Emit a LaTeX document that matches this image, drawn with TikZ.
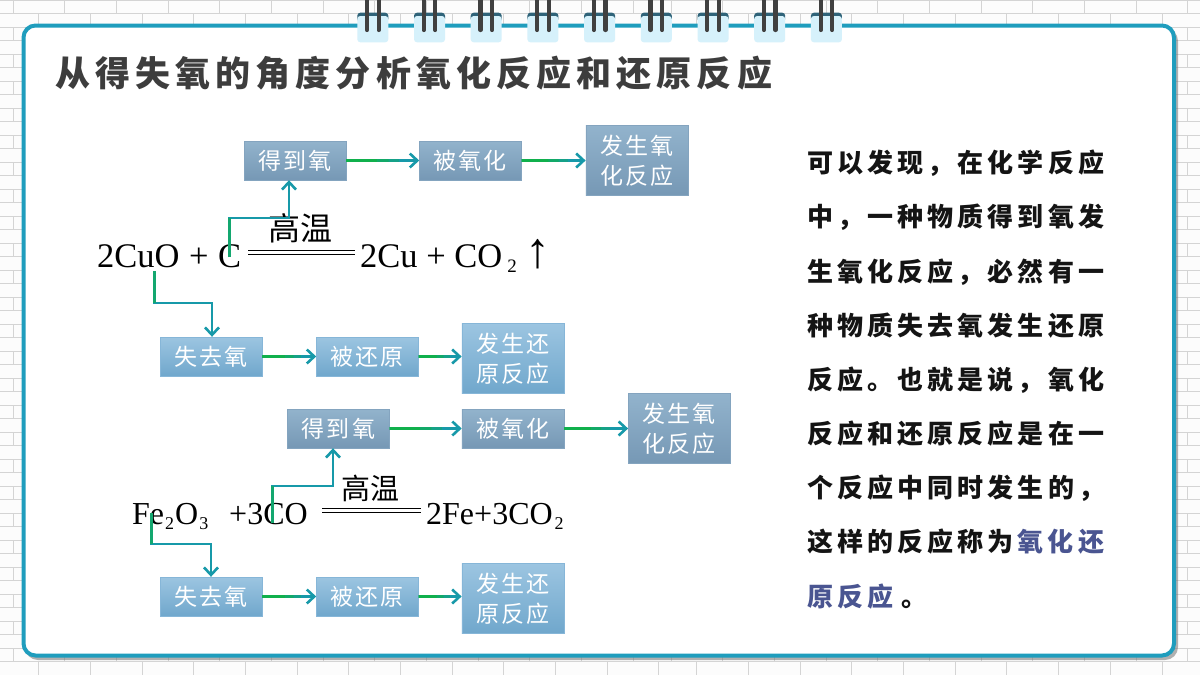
\documentclass[tikz,border=0pt]{standalone}
\usepackage{fontspec}
\setmainfont{Liberation Serif}
\newfontfamily\cjkplain{Noto Sans CJK SC}
\newfontfamily\cjkbox[LetterSpace=9]{Noto Sans CJK SC}
\newfontfamily\cjktitle[LetterSpace=14.6]{Noto Sans CJK SC}
\newfontfamily\cjkbody[LetterSpace=15.8]{Noto Sans CJK SC}
\usetikzlibrary{calc,positioning,arrows.meta}
\definecolor{cardline}{HTML}{1F9DBD}
\definecolor{tabfill}{HTML}{D6F1FB}
\definecolor{tabcap}{HTML}{2F6379}
\definecolor{ringbar}{HTML}{404040}
\definecolor{flowteal}{HTML}{1799A9}
\definecolor{flowgreen}{HTML}{10B04C}
\definecolor{keyword}{HTML}{4A5591}
\tikzset{
  brick/.style={draw=black!17,line width=.7pt},
  flowbox/.style={draw=#1,line width=.4pt,inner sep=0pt,minimum width=102pt,
    minimum height=39pt,align=center,text=white,font=\fontsize{23}{30}\selectfont\cjkbox},
  gainbox/.style={flowbox=gainmid,top color=gaintop,bottom color=gainlow},
  losebox/.style={flowbox=losemid,top color=losetop,bottom color=loselow},
  tallbox/.style={minimum height=70pt},
  formula/.style={inner sep=0pt,anchor=base west,font=\fontsize{#1}{#1}\selectfont},
  heat/.style={inner sep=0pt,font=\fontsize{#1}{#1}\selectfont\cjkplain},
  flow/.style={draw=flowteal,line width=2.6pt,-{Straight Barb[length=7.5pt,width=14pt]}},
  flowstem/.style={draw=flowgreen!#1!flowteal,line width=2.6pt},
  equal/.style={draw=black,line width=1.6pt,double=white,double distance=2.6pt},
}
\definecolor{gaintop}{HTML}{92B3CC}
\definecolor{gainmid}{HTML}{84A4BF}
\definecolor{gainlow}{HTML}{7698B5}
\definecolor{losetop}{HTML}{9CC5E1}
\definecolor{losemid}{HTML}{86B6D8}
\definecolor{loselow}{HTML}{70A7CC}
\begin{document}
\begin{tikzpicture}[x=1pt,y=-1pt]
  \useasboundingbox (0,0) rectangle (1200,675);
  \fill[black!1] (0,0) rectangle (1200,675);

  % wall behind the card
  \foreach \r in {0,...,49}
    \draw[brick] (0,13.5*\r) -- (1200,13.5*\r);
  \foreach \r in {0,2,...,48} {
    \foreach \k in {0,...,12}
      \draw[brick] ({13+51.67*\k},13.5*\r) -- ++(0,13.5);
    \foreach \k in {13,...,23}
      \draw[brick] ({51.67*\k-0.7},13.5*\r) -- ++(0,13.5);
  }
  \foreach \r in {1,3,...,49} {
    \foreach \k in {0,...,12}
      \draw[brick] ({38.7+51.67*\k},13.5*\r) -- ++(0,13.5);
    \foreach \k in {13,...,22}
      \draw[brick] ({25.1+51.67*\k},13.5*\r) -- ++(0,13.5);
  }

  % card
  \fill[black!55,opacity=.55,rounded corners=13pt] (25,28) rectangle (1178,660);
  \draw[cardline,fill=white,line width=4pt,rounded corners=12pt] (23.5,25.5) rectangle (1174,655.5);

  % rings
  \foreach \k in {0,...,8} {
    \pgfmathsetmacro{\tabx}{372.8+56.7*\k}
    \fill[tabcap,rounded corners=3pt] (\tabx-15.5,12.7) rectangle (\tabx+15.5,22);
    \fill[tabfill,rounded corners=3pt] (\tabx-15.5,16) rectangle (\tabx+15.5,42.3);
    \draw[ringbar,line width=4.2pt,line cap=round] (\tabx-5.8,-3) -- (\tabx-5.8,30);
    \draw[ringbar,line width=4.2pt,line cap=round] (\tabx+5.8,-3) -- (\tabx+5.8,30);
  }

  \node[inner sep=0pt,anchor=west,text=black!76] (title) at (55,73)
    {\fontsize{35}{35}\selectfont\cjktitle\bfseries 从得失氧的角度分析氧化反应和还原反应};

  % first reaction
  \node[gainbox] (gain1) at (295,160.5) {得到氧};
  \node[gainbox,right=73pt of gain1] (oxid1) {被氧化};
  \node[gainbox,tallbox,right=64pt of oxid1] (oxres1) {发生氧\\化反应};

  \node[formula=34.5] (cuo) at (97,267) {2CuO};
  \node[formula=34.5] (plus1) at (189,267) {+};
  \node[formula=34.5] (c) at (218,267) {C};
  \node[heat=32] (heat1) at (300,228) {高温};
  \node[formula=34.5] (prod1) at (360,267) {2Cu + CO\hspace{5pt}\raisebox{-5pt}{\fontsize{19}{19}\selectfont 2}};
  \node[formula=50] (gas) at (525.5,267) {↑};
  \coordinate (eq1a) at (248,252.5);
  \coordinate (eq1b) at (355,252.5);
  \draw[equal] (eq1a) -- (eq1b);

  \node[losebox] (lose1) at (211,356.5) {失去氧};
  \node[losebox,right=54pt of lose1] (redu1) {被还原};
  \node[losebox,tallbox,right=43pt of redu1,yshift=-2pt] (redres1) {发生还\\原反应};

  % second reaction
  \node[gainbox] (gain2) at (338.5,428.5) {得到氧};
  \node[gainbox,right=72pt of gain2] (oxid2) {被氧化};
  \node[gainbox,tallbox,right=64pt of oxid2] (oxres2) {发生氧\\化反应};

  \node[formula=32] (fe) at (132,524) {Fe\hspace{1pt}\raisebox{-5pt}{\fontsize{18}{18}\selectfont 2}\hspace{1pt}O\hspace{1pt}\raisebox{-5pt}{\fontsize{18}{18}\selectfont 3}};
  \node[formula=32] (co) at (229,524) {+3CO};
  \node[heat=29] (heat2) at (370,488) {高温};
  \node[formula=32] (prod2) at (426,524) {2Fe+3CO\hspace{2pt}\raisebox{-5pt}{\fontsize{18}{18}\selectfont 2}};
  \coordinate (eq2a) at (322,510.5);
  \coordinate (eq2b) at (421,510.5);
  \draw[equal] (eq2a) -- (eq2b);

  \node[losebox] (lose2) at (211,596.5) {失去氧};
  \node[losebox,right=54pt of lose2] (redu2) {被还原};
  \node[losebox,tallbox,right=43pt of redu2,yshift=-2pt] (redres2) {发生还\\原反应};

  % chains of boxes
  \foreach \a/\b in {gain1/oxid1,oxid1/oxres1,lose1/redu1,redu1/redres1,
                     gain2/oxid2,oxid2/oxres2,lose2/redu2,redu2/redres2} {
    \draw[flow] (\a.east) -- (\a.east -| \b.west);
    \foreach \t/\m in {.72/35,.58/70,.42/100}
      \draw[flowstem=\m] (\a.east) -- ($(\a.east)!\t!(\a.east -| \b.west)$);
  }

  % from the formulas up and down
  \coordinate (bend1) at (289,218);
  \coordinate (bend2) at (212,303);
  \coordinate (bend3) at (333,486);
  \coordinate (bend4) at (211,544);
  \coordinate (from1) at ($(c.base)+(-0.5,-10)$);
  \coordinate (from2) at ($(cuo.base)+(16,4)$);
  \coordinate (from3) at ($(co.base)+(4,-1)$);
  \coordinate (from4) at ($(fe.base)+(-18.5,-11)$);
  \draw[flow,line join=miter] (from1) |- (bend1) -- (bend1 |- gain1.south);
  \draw[flow,line join=miter] (from2) |- (bend2) -- (bend2 |- lose1.north);
  \draw[flow,line join=miter] (from3) |- (bend3) -- (bend3 |- gain2.south);
  \draw[flow,line join=miter] (from4) |- (bend4) -- (bend4 |- lose2.north);
  \draw[flowstem=62] (from1) -- (from1 |- bend1);
  \draw[flowstem=62] (from2) -- (from2 |- bend2);
  \draw[flowstem=62] (from3) -- (from3 |- bend3);
  \draw[flowstem=62] (from4) -- (from4 |- bend4);

  % text on the right
  \node[inner sep=0pt,anchor=north west,align=left,text=black!92,
        font=\fontsize{26}{54.15}\selectfont\cjkbody\bfseries] (summary) at (807,150)
    {可以发现，在化学反应\\
     中，一种物质得到氧发\\
     生氧化反应，必然有一\\
     种物质失去氧发生还原\\
     反应。也就是说，氧化\\
     反应和还原反应是在一\\
     个反应中同时发生的，\\
     这样的反应称为\hspace{4pt}\textcolor{keyword}{氧化还}\\
     \textcolor{keyword}{原反应}\hspace{8pt}。};
\end{tikzpicture}
\end{document}
